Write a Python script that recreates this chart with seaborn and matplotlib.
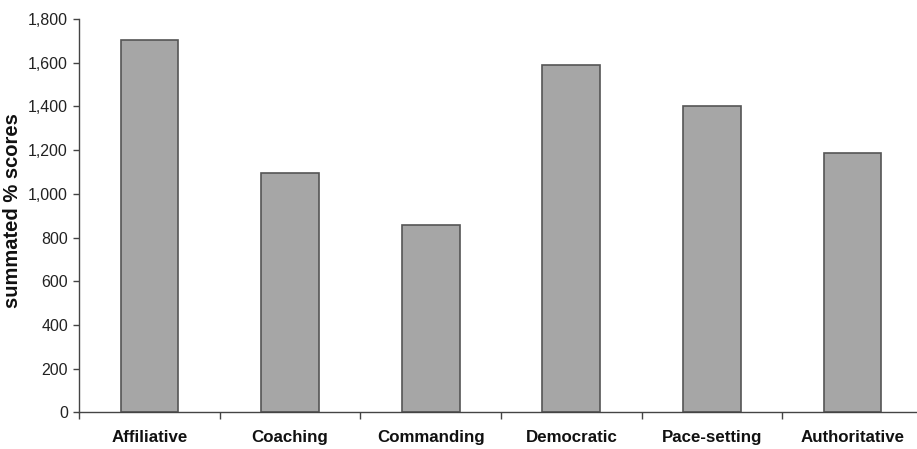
import numpy as np
import pandas as pd
import seaborn as sns
import matplotlib.pyplot as plt

# Data
styles = ['Affiliative', 'Coaching', 'Commanding', 'Democratic', 'Pace-setting', 'Authoritative']
scores = [1705, 1095, 858, 1590, 1400, 1185]

df = pd.DataFrame({'style': styles, 'score': scores})

sns.set_style('white')
plt.rcParams['font.family'] = ['Liberation Sans', 'DejaVu Sans']

fig = plt.figure(figsize=(9.17, 4.49), dpi=100)
ax = fig.add_axes([0.0862, 0.0817, 0.9203, 0.876])

sns.barplot(data=df, x='style', y='score', color='#a6a6a6', saturation=1,
            edgecolor='#555555', linewidth=1.2, width=0.41, ax=ax)

ax.set_xlim(-0.5, len(styles) - 0.5)
ax.set_ylim(0, 1800)
ax.set_yticks(np.arange(0, 1801, 200))
ax.set_yticklabels([f'{v:,}' for v in range(0, 1801, 200)], fontsize=11.5, color='#222222')

# category labels centred, tick marks on the boundaries
ax.set_xticks(np.arange(-0.5, len(styles), 1), minor=True)
ax.tick_params(axis='x', which='major', length=0, pad=13)
ax.tick_params(axis='x', which='minor', length=5, width=1, color='#444444', direction='out', bottom=True)
ax.tick_params(axis='y', length=4, width=1, color='#444444', direction='out', left=True, pad=4)
for lbl in ax.get_xticklabels():
    lbl.set_fontweight('bold')
    lbl.set_fontsize(12.2)
    lbl.set_color('#111111')

ax.set_xlabel('')
ax.set_ylabel('summated % scores', fontsize=14.5, fontweight='bold', color='#111111')
ax.yaxis.set_label_coords(-0.068, 0.513)

sns.despine(ax=ax)
for side in ['left', 'bottom']:
    ax.spines[side].set_color('#444444')
    ax.spines[side].set_linewidth(1)

fig.savefig('out.png', dpi=100)
